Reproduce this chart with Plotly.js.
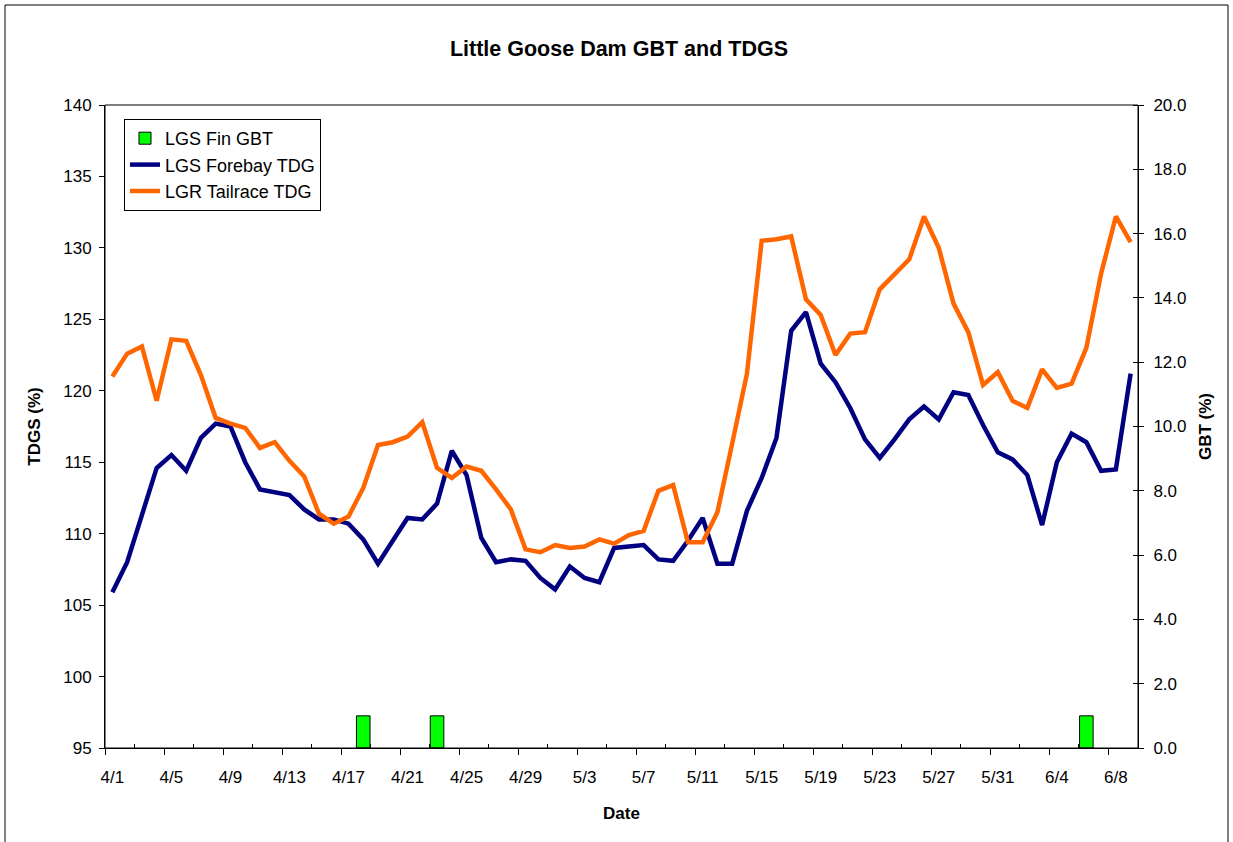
<!DOCTYPE html>
<html>
<head>
<meta charset="utf-8">
<script src="https://cdn.plot.ly/plotly-3.0.1.min.js"></script>
<style>
  html, body { margin: 0; padding: 0; background: #ffffff; }
  #chart { width: 1233px; height: 842px; }
</style>
</head>
<body>
<div id="chart"></div>
<script>
// ---- Data ----
const dates = [
  '4/1','4/2','4/3','4/4','4/5','4/6','4/7','4/8','4/9','4/10',
  '4/11','4/12','4/13','4/14','4/15','4/16','4/17','4/18','4/19','4/20',
  '4/21','4/22','4/23','4/24','4/25','4/26','4/27','4/28','4/29','4/30',
  '5/1','5/2','5/3','5/4','5/5','5/6','5/7','5/8','5/9','5/10',
  '5/11','5/12','5/13','5/14','5/15','5/16','5/17','5/18','5/19','5/20',
  '5/21','5/22','5/23','5/24','5/25','5/26','5/27','5/28','5/29','5/30',
  '5/31','6/1','6/2','6/3','6/4','6/5','6/6','6/7','6/8','6/9'
];

const forebayTDG = [
  105.9, 108.0, 111.3, 114.6, 115.5, 114.4, 116.7, 117.7, 117.5, 115.0,
  113.1, 112.9, 112.7, 111.7, 111.0, 111.0, 110.7, 109.6, 107.9, 109.5,
  111.1, 111.0, 112.1, 115.8, 114.1, 109.7, 108.0, 108.2, 108.1, 106.9,
  106.1, 107.7, 106.9, 106.6, 109.0, 109.1, 109.2, 108.2, 108.1, 109.5,
  111.1, 107.9, 107.9, 111.6, 113.9, 116.7, 124.2, 125.5, 121.9, 120.6,
  118.8, 116.6, 115.3, 116.6, 118.0, 118.9, 118.0, 119.9, 119.7, 117.6,
  115.7, 115.2, 114.1, 110.6, 115.0, 117.0, 116.4, 114.4, 114.5, 121.2
];

const tailraceTDG = [
  121.0, 122.6, 123.1, 119.3, 123.6, 123.5, 121.1, 118.1, 117.7, 117.4,
  116.0, 116.4, 115.1, 114.0, 111.4, 110.7, 111.2, 113.2, 116.2, 116.4,
  116.8, 117.8, 114.6, 113.9, 114.7, 114.4, 113.1, 111.7, 108.9, 108.7,
  109.2, 109.0, 109.1, 109.6, 109.3, 109.9, 110.2, 113.0, 113.4, 109.4,
  109.4, 111.5, 116.3, 121.2, 130.5, 130.6, 130.8, 126.4, 125.3, 122.5,
  124.0, 124.1, 127.1, 128.2, 129.2, 132.2, 130.0, 126.1, 124.1, 120.4,
  121.3, 119.3, 118.8, 121.5, 120.2, 120.5, 123.0, 128.2, 132.2, 130.4
];

const finGBTDates = ['4/18', '4/23', '6/6'];
const finGBT = [1.0, 1.0, 1.0];

const tickDates = ['4/1','4/5','4/9','4/13','4/17','4/21','4/25','4/29','5/3',
                   '5/7','5/11','5/15','5/19','5/23','5/27','5/31','6/4','6/8'];
const tdgsTicks = [95, 100, 105, 110, 115, 120, 125, 130, 135, 140];
const gbtTicks = [0, 2, 4, 6, 8, 10, 12, 14, 16, 18, 20];

// ---- Derived positions (category index on a linear axis) ----
const xIdx = dates.map((d, i) => i);
const gbtX = finGBTDates.map(d => dates.indexOf(d));
const labelIdx = tickDates.map(d => dates.indexOf(d));
const nCat = dates.length;
const majorBoundaries = [];
const minorBoundaries = [];
for (let b = -0.5; b <= nCat - 0.5; b += 2) {
  if (((b + 0.5) / 2) % 2 === 0) majorBoundaries.push(b); else minorBoundaries.push(b);
}

const FONT = 'Arial, "Liberation Sans", Helvetica, sans-serif';
const xRange = [-0.5, nCat - 0.5];

const traces = [
  {
    type: 'bar', name: 'LGS Fin GBT',
    x: gbtX, y: finGBT, xaxis: 'x2', yaxis: 'y2',
    width: 0.92,
    marker: { color: '#00FF00', line: { color: '#000000', width: 1 } },
    hoverinfo: 'skip'
  },
  {
    type: 'scatter', mode: 'lines', name: 'LGS Forebay TDG',
    x: xIdx, y: forebayTDG, xaxis: 'x', yaxis: 'y',
    line: { color: '#000080', width: 4.5 }
  },
  {
    type: 'scatter', mode: 'lines', name: 'LGR Tailrace TDG',
    x: xIdx, y: tailraceTDG, xaxis: 'x', yaxis: 'y',
    line: { color: '#FF6600', width: 4.5 }
  }
];

const layout = {
  width: 1233, height: 842,
  margin: { l: 105, r: 95, t: 105, b: 94 },
  paper_bgcolor: '#ffffff', plot_bgcolor: '#ffffff',
  font: { family: FONT, size: 17, color: '#000000' },
  showlegend: true,
  title: {
    text: 'Little Goose Dam GBT and TDGS',
    font: { family: FONT, size: 21.5, weight: 'bold', color: '#000000' },
    xref: 'container', x: 0.502, xanchor: 'center',
    yref: 'container', y: 1 - 48 / 842, yanchor: 'middle'
  },
  xaxis: {
    type: 'linear', range: xRange, fixedrange: true,
    tickmode: 'array', tickvals: labelIdx, ticktext: tickDates,
    ticks: '', ticklabelstandoff: 14,
    showgrid: false, zeroline: false,
    showline: true, linecolor: '#000000', linewidth: 1,
    tickfont: { family: FONT, size: 17, color: '#000000' },
    minor: { tickmode: 'array', tickvals: minorBoundaries, ticks: 'inside', ticklen: 4, tickcolor: '#000000', tickwidth: 1, showgrid: false },
    title: { text: 'Date', font: { family: FONT, size: 17, weight: 'bold' }, standoff: 20 },
    automargin: true
  },
  xaxis2: {
    type: 'linear', range: xRange, overlaying: 'x', anchor: 'y2', side: 'bottom', fixedrange: true,
    tickmode: 'array', tickvals: majorBoundaries,
    ticks: 'outside', ticklen: 6, tickcolor: '#000000', tickwidth: 1,
    showticklabels: false, showgrid: false, zeroline: false,
    showline: true, linecolor: '#000000', linewidth: 1
  },
  yaxis: {
    range: [95, 140], tickmode: 'array', tickvals: tdgsTicks, fixedrange: true,
    ticks: 'outside', ticklen: 5, tickcolor: '#000000', tickwidth: 1,
    showgrid: false, zeroline: false,
    showline: true, linecolor: '#000000', linewidth: 1,
    tickfont: { family: FONT, size: 17, color: '#000000' },
    ticklabelstandoff: 4,
    title: { text: 'TDGS (%)', font: { family: FONT, size: 17, weight: 'bold' }, standoff: 18 },
    automargin: true
  },
  yaxis2: {
    range: [0, 20], overlaying: 'y', side: 'right', anchor: 'x2', fixedrange: true,
    tickmode: 'array', tickvals: gbtTicks, tickformat: '.1f',
    ticks: 'outside', ticklen: 5, tickcolor: '#000000', tickwidth: 1,
    showgrid: false, zeroline: false,
    showline: true, linecolor: '#000000', linewidth: 1,
    tickfont: { family: FONT, size: 17, color: '#000000' },
    ticklabelstandoff: 6,
    minor: { tickmode: 'array', tickvals: gbtTicks.map(v => v + 0.0001), ticks: 'inside', ticklen: 5, tickcolor: '#000000', tickwidth: 1, showgrid: false },
    title: { text: 'GBT (%)', font: { family: FONT, size: 17, weight: 'bold' }, standoff: 13 },
    automargin: true
  },
  legend: {
    x: (124 - 105) / 1033, y: (748 - 119) / 643, xanchor: 'left', yanchor: 'top',
    bgcolor: '#ffffff', bordercolor: '#000000', borderwidth: 1,
    font: { family: FONT, size: 18, color: '#000000' },
    traceorder: 'normal', tracegroupgap: 0
  },
  shapes: [
    { type: 'rect', xref: 'paper', yref: 'paper', x0: 0, x1: 1, y0: 0, y1: 1,
      line: { color: '#000000', width: 1 }, fillcolor: 'rgba(0,0,0,0)', layer: 'above' },
    { type: 'rect', xref: 'paper', yref: 'paper',
      x0: (5 - 105) / 1033, x1: (1228 - 105) / 1033, y0: (748 - 900) / 643, y1: (748 - 5) / 643,
      line: { color: '#000000', width: 1 }, fillcolor: 'rgba(0,0,0,0)', layer: 'below' }
  ],
  bargap: 0.05
};

Plotly.newPlot('chart', traces, layout, { displayModeBar: false, staticPlot: true });
</script>
</body>
</html>
